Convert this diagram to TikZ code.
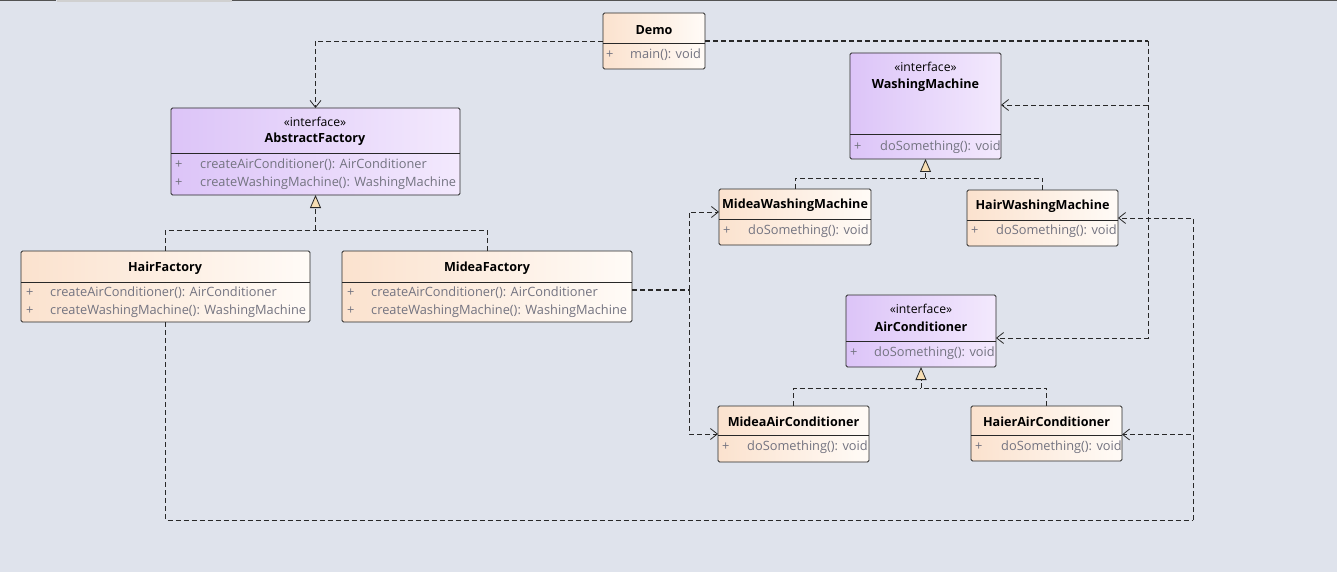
\documentclass[tikz,border=0pt]{standalone}
\usepackage{fontspec}
\setmainfont{Open Sans}
\usetikzlibrary{arrows.meta}
\definecolor{bg}{RGB}{223,227,236}
\definecolor{clsL}{RGB}{251,226,206}
\definecolor{clsR}{RGB}{255,251,247}
\definecolor{ifcL}{RGB}{220,196,248}
\definecolor{ifcR}{RGB}{243,233,253}
\definecolor{methc}{RGB}{115,115,128}
\definecolor{tri}{RGB}{247,222,180}
\definecolor{tabc}{RGB}{208,208,208}
\definecolor{edge}{RGB}{40,40,40}
\tikzset{
  cls/.style={draw=edge, line width=0.8pt, rounded corners=1.5pt, left color=clsL, right color=clsR, anchor=north west, inner sep=0pt, outer sep=0pt},
  ifc/.style={cls, left color=ifcL, right color=ifcR},
  ttl/.style={font=\fontsize{12.6}{14}\selectfont\bfseries, text=black, inner sep=0pt},
  ster/.style={font=\fontsize{12.2}{14}\selectfont, text=black, inner sep=0pt},
  meth/.style={font=\fontsize{12.8}{14}\selectfont, text=methc, anchor=west, inner sep=0pt},
  divl/.style={draw=edge, line width=0.8pt},
  dep/.style={draw=edge, line width=0.8pt, dash pattern=on 5pt off 3pt, -{Straight Barb[length=7pt,width=11pt]}},
  depthick/.style={draw=edge, line width=1.6pt, dash pattern=on 5pt off 3pt},
  dline/.style={draw=edge, line width=0.8pt, dash pattern=on 5pt off 3pt},
  real/.style={draw=edge, line width=1.4pt, dash pattern=on 5pt off 3pt, -{Triangle[open, fill=tri, length=13pt, width=11pt, line width=0.8pt]}},
}
\begin{document}
\begin{tikzpicture}[x=1pt,y=-1pt]
\fill[bg] (0,0) rectangle (1337,572);
\useasboundingbox (0,0) rectangle (1337,572);
% top strip
\fill[tabc] (57,0) rectangle (232,2.5);
\draw[edge!80, line width=1pt] (0,1) -- (56,1) (232,1) -- (1337,1);

% ---------- Demo
\node[cls, minimum width=102, minimum height=56] (demo) at (603,13) {};
\node[ttl] (demot) at (654,30) {Demo};
\draw[divl] (603,43) -- (705,43);
\node[meth] (demop) at (606,55) {+};
\node[meth] (demom) at (630,55) {main(): void};

% ---------- AbstractFactory
\node[ifc, minimum width=289, minimum height=87] (af) at (171,108) {};
\node[ster] (afs) at (315,122) {«interface»};
\node[ttl] (aft) at (315,139) {AbstractFactory};
\draw[divl] (171,153) -- (460,153);
\node[meth] (afp1) at (175,165) {+};
\node[meth] (afm1) at (200,165) {createAirConditioner(): AirConditioner};
\node[meth] (afp2) at (175,183) {+};
\node[meth] (afm2) at (200,183) {createWashingMachine(): WashingMachine};

% ---------- HairFactory
\node[cls, minimum width=289, minimum height=71] (hf) at (21,251) {};
\node[ttl] (hft) at (165,268) {HairFactory};
\draw[divl] (21,282) -- (310,282);
\node[meth] (hfp1) at (26,293) {+};
\node[meth] (hfm1) at (50,293) {createAirConditioner(): AirConditioner};
\node[meth] (hfp2) at (26,311) {+};
\node[meth] (hfm2) at (50,311) {createWashingMachine(): WashingMachine};

% ---------- MideaFactory
\node[cls, minimum width=290, minimum height=71] (mf) at (342,251) {};
\node[ttl] (mft) at (487,268) {MideaFactory};
\draw[divl] (342,282) -- (632,282);
\node[meth] (mfp1) at (347,293) {+};
\node[meth] (mfm1) at (371,293) {createAirConditioner(): AirConditioner};
\node[meth] (mfp2) at (347,311) {+};
\node[meth] (mfm2) at (371,311) {createWashingMachine(): WashingMachine};

% ---------- WashingMachine
\node[ifc, minimum width=151, minimum height=106] (wm) at (850,53) {};
\node[ster] (wms) at (925.5,67) {«interface»};
\node[ttl] (wmt) at (925.5,85) {WashingMachine};
\draw[divl] (850,134) -- (1001,134);
\node[meth] (wmp) at (854,147) {+};
\node[meth] (wmm) at (880,147) {doSomething(): void};

% ---------- MideaWashingMachine
\node[cls, minimum width=152, minimum height=56] (mwm) at (719,189) {};
\node[ttl] (mwmt) at (795,205) {MideaWashingMachine};
\draw[divl] (719,219) -- (871,219);
\node[meth] (mwmp) at (723,231) {+};
\node[meth] (mwmm) at (748,231) {doSomething(): void};

% ---------- HairWashingMachine
\node[cls, minimum width=151, minimum height=56] (hwm) at (967,190) {};
\node[ttl] (hwmt) at (1042.5,206) {HairWashingMachine};
\draw[divl] (967,220) -- (1118,220);
\node[meth] (hwmp) at (971,231) {+};
\node[meth] (hwmm) at (996,231) {doSomething(): void};

% ---------- AirConditioner
\node[ifc, minimum width=150, minimum height=72] (ac) at (846,295) {};
\node[ster] (acs) at (921,309) {«interface»};
\node[ttl] (act) at (921,327) {AirConditioner};
\draw[divl] (846,341) -- (996,341);
\node[meth] (acp) at (850,353) {+};
\node[meth] (acm) at (874,353) {doSomething(): void};

% ---------- MideaAirConditioner
\node[cls, minimum width=151, minimum height=56] (mac) at (718,406) {};
\node[ttl] (mact) at (793.5,422) {MideaAirConditioner};
\draw[divl] (718,435) -- (869,435);
\node[meth] (macp) at (722,447) {+};
\node[meth] (macm) at (747,447) {doSomething(): void};

% ---------- HaierAirConditioner
\node[cls, minimum width=151, minimum height=55] (hac) at (971,406) {};
\node[ttl] (hact) at (1046.5,422) {HaierAirConditioner};
\draw[divl] (971,435) -- (1122,435);
\node[meth] (hacp) at (975,447) {+};
\node[meth] (hacm) at (1001,447) {doSomething(): void};

% ---------- connectors
% Demo -> AbstractFactory
\draw[dep] (demo.west) -| (af.north);
% Demo -> WashingMachine / AirConditioner
\coordinate (r1) at (1148,41);
\coordinate (r2) at (1148,105);
\draw[depthick] (demo.east) -- (r1);
\draw[dep] (r1) -- (r2) -- ([yshift=1pt]wm.east);
\draw[dep] (r2) |- ([yshift=-7pt]ac.east);

% realization of AbstractFactory
\coordinate (g1) at (af.south |- 0,230);
\draw[dline] (hf.north) |- (g1);
\draw[dline] (mf.north) |- (g1);
\draw[real] (g1) -- (af.south);

% realization of WashingMachine
\coordinate (g2) at (wm.south |- 0,178);
\draw[dline] (mwm.north) |- (g2);
\draw[dline] (hwm.north) |- (g2);
\draw[real, line width=0.8pt] (g2) -- (wm.south);

% realization of AirConditioner
\coordinate (g3) at (ac.south |- 0,388);
\draw[dline] (mac.north) |- (g3);
\draw[dline] (hac.north) |- (g3);
\draw[real, line width=0.8pt] (g3) -- (ac.south);

% MideaFactory -> Midea products
\coordinate (mj) at (689,290);
\draw[depthick] ([yshift=-3.5pt]mf.east) -- (mj);
\draw[dep] (mj) |- ([yshift=5pt]mwm.west);
\draw[dep] (mj) |- (mac.west);

% HairFactory -> Hair products
\coordinate (hr) at (1193,520);
\draw[dline] (hf.south) |- (hr);
\draw[dep] (hr) |- (hwm.east);
\draw[dep] (hr) |- ([yshift=-1pt]hac.east);
\end{tikzpicture}
\end{document}
